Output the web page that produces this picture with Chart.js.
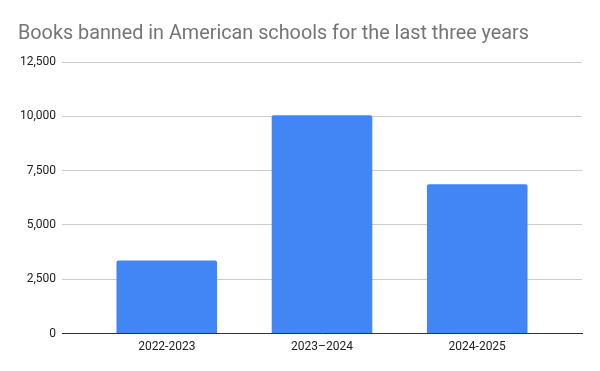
<!DOCTYPE html>
<html lang="en">
<head>
    <meta charset="UTF-8">
    <title>Books banned in American schools</title>
    <script src="https://cdn.jsdelivr.net/npm/chart.js"></script>
    <style>
        * { margin: 0; padding: 0; box-sizing: border-box; }
        body { background: #fff; }
        .wrap { width: 600px; height: 371px; }
    </style>
</head>
<body>
    <div class="wrap">
        <canvas id="bookChart" width="600" height="371"></canvas>
    </div>

    <script>
        // Data
        const chartTitle = 'Books banned in American schools for the last three years';
        const schoolYears = ['2022-2023', '2023\u20132024', '2024-2025'];
        const bannedBooks = [3362, 10046, 6870];
        const yTicks = [0, 2500, 5000, 7500, 10000, 12500];

        Chart.defaults.font.family = "Roboto, 'Liberation Sans', Arial, sans-serif";

        // title drawn at a fixed spot, like the Sheets chart
        const titlePlugin = {
            id: 'sheetTitle',
            afterDraw(chart) {
                const ctx = chart.ctx;
                ctx.save();
                ctx.font = "19.8px Roboto, 'Liberation Sans', Arial, sans-serif";
                ctx.fillStyle = '#757575';
                ctx.textBaseline = 'alphabetic';
                ctx.textAlign = 'left';
                ctx.fillText(chartTitle, 18, 39);
                ctx.restore();
            }
        };

        const ctx = document.getElementById('bookChart').getContext('2d');
        new Chart(ctx, {
            type: 'bar',
            data: {
                datasets: [{
                    data: bannedBooks.map((v, i) => ({ x: i, y: v })),
                    backgroundColor: '#4285f4',
                    borderRadius: 2,
                    barPercentage: 0.648,
                    categoryPercentage: 1
                }]
            },
            options: {
                responsive: false,
                animation: false,
                layout: { padding: { top: 62, right: 18, bottom: 11, left: 0 } },
                plugins: {
                    legend: { display: false },
                    tooltip: { enabled: false }
                },
                scales: {
                    x: {
                        type: 'linear',
                        offset: false,
                        min: -0.675,
                        max: 2.675,
                        afterBuildTicks: (scale) => {
                            scale.ticks = schoolYears.map((c, i) => ({ value: i }));
                        },
                        ticks: {
                            padding: 6,
                            color: '#222',
                            font: { size: 12 },
                            maxRotation: 0,
                            callback: (v) => schoolYears[v]
                        },
                        grid: { display: false, drawTicks: false, offset: false },
                        border: { display: true, color: '#333', width: 1 }
                    },
                    y: {
                        min: 0,
                        max: 12500,
                        afterBuildTicks: (scale) => {
                            scale.ticks = yTicks.map(v => ({ value: v }));
                        },
                        afterFit: (scale) => { scale.width = 62; },
                        ticks: {
                            padding: 6,
                            color: '#222',
                            font: { size: 12 },
                            callback: (v) => v.toLocaleString('en-US')
                        },
                        grid: { color: '#cccccc', drawTicks: false },
                        border: { display: false }
                    }
                }
            },
            plugins: [titlePlugin]
        });
    </script>
</body>
</html>
